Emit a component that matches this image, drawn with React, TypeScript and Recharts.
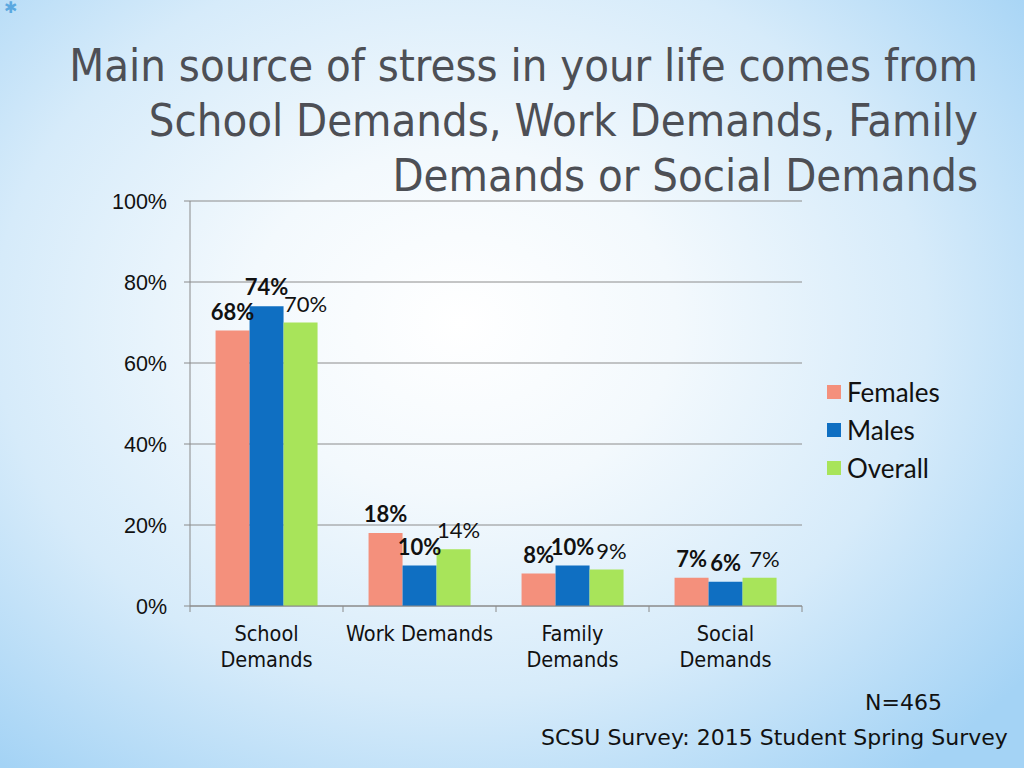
import * as React from "react";
import { Bar, BarChart, CartesianGrid, LabelList, XAxis, YAxis } from "recharts";

const categories = ["School Demands", "Work Demands", "Family Demands", "Social Demands"];
const females = [68, 18, 8, 7];
const males = [74, 10, 10, 6];
const overall = [70, 14, 9, 7];
const yTicks = [0, 20, 40, 60, 80, 100];

const seriesNames = ["Females", "Males", "Overall"];
const seriesColors = ["#F4907C", "#0F6FC2", "#A8E45A"];

const data = categories.map((c, i) => ({
  name: c,
  Females: females[i],
  Males: males[i],
  Overall: overall[i],
}));

const BAND = 153;

// category labels wrap like the office chart ("Work Demands" fits on one line)
function CategoryTick(props: any) {
  const { x, y, payload, index } = props;
  const words: string[] = payload.value.startsWith("Work") ? [payload.value] : payload.value.split(" ");
  const last = index === categories.length - 1;
  return (
    <g>
      <line x1={x - BAND / 2} x2={x - BAND / 2} y1={y - 8} y2={y - 2} stroke="#8a8a8a" />
      {last && <line x1={x + BAND / 2} x2={x + BAND / 2} y1={y - 8} y2={y - 2} stroke="#8a8a8a" />}
      <text x={x} y={y} textAnchor="middle" fill="#111" fontSize={21.5} fontFamily="'DejaVu Sans Condensed', sans-serif">
        {words.map((w, i) => (
          <tspan key={i} x={x} dy={i === 0 ? 27 : 26}>
            {w}
          </tspan>
        ))}
      </text>
    </g>
  );
}

export default function App() {
  return (
    <div
      style={{
        position: "absolute",
        left: 0,
        top: 0,
        width: 1024,
        height: 768,
        overflow: "hidden",
        background:
          "radial-gradient(ellipse 70% 75% at 45% 42%, #ffffff 0%, #f3f9fd 30%, #d6ebfa 65%, #a4d3f5 100%)",
      }}
    >
      <div style={{ position: "absolute", left: 4, top: -2, color: "#5aa8e0", fontSize: 16 }}>✱</div>
      <div
        style={{
          position: "absolute",
          right: 46,
          top: 38,
          width: 980,
          textAlign: "right",
          fontFamily: "'DejaVu Sans Condensed', sans-serif",
          fontSize: 45,
          lineHeight: "55px",
          color: "#4d4f55",
        }}
      >
        Main source of stress in your life comes from
        <br />
        School Demands, Work Demands, Family
        <br />
        Demands or Social Demands
      </div>

      <BarChart
        width={1024}
        height={768}
        data={data}
        margin={{ top: 201, right: 222, bottom: 92, left: 110 }}
        barCategoryGap="16.7%"
        barGap={0}
        style={{ position: "absolute", left: 0, top: 0 }}
      >
        <CartesianGrid vertical={false} stroke="#8c8c8c" />
        <XAxis
          dataKey="name"
          height={70}
          axisLine={{ stroke: "#8a8a8a" }}
          tickLine={false}
          interval={0}
          tick={<CategoryTick />}
        />
        <YAxis
          width={80}
          domain={[0, 100]}
          ticks={yTicks}
          interval={0}
          axisLine={{ stroke: "#8a8a8a" }}
          tickLine={{ stroke: "#8a8a8a" }}
          tickSize={6}
          tickMargin={17}
          tickFormatter={(v) => `${v}%`}
          tick={{ fill: "#111", fontSize: 21.5, fontFamily: "'Liberation Sans Narrow', 'Liberation Sans', sans-serif" }}
        />
        {seriesNames.map((s, i) => (
          <Bar key={s} dataKey={s} fill={seriesColors[i]} isAnimationActive={false}>
            <LabelList
              dataKey={s}
              position="top"
              offset={11}
              formatter={(v: any) => `${v}%`}
              style={{
                fill: "#111",
                fontSize: 22,
                fontWeight: i < 2 ? 700 : 400,
                fontFamily: "Lato, sans-serif",
                transform: i === 2 ? "translateX(5px)" : undefined,
              }}
            />
          </Bar>
        ))}
      </BarChart>

      <div
        style={{
          position: "absolute",
          left: 827,
          top: 373,
          fontFamily: "Lato, sans-serif",
          fontSize: 26,
          color: "#111",
        }}
      >
        {seriesNames.map((s, i) => (
          <div key={s} style={{ display: "flex", alignItems: "center", height: 38 }}>
            <span style={{ width: 14, height: 14, background: seriesColors[i], marginRight: 6 }} />
            {s}
          </div>
        ))}
      </div>

      <div
        style={{
          position: "absolute",
          right: 82,
          top: 690,
          fontFamily: "'DejaVu Sans', sans-serif",
          fontSize: 22,
          color: "#111",
        }}
      >
        N=465
      </div>
      <div
        style={{
          position: "absolute",
          left: 541,
          top: 725,
          fontFamily: "'DejaVu Sans', sans-serif",
          fontSize: 22,
          color: "#111",
        }}
      >
        SCSU Survey: 2015 Student Spring Survey
      </div>
    </div>
  );
}
